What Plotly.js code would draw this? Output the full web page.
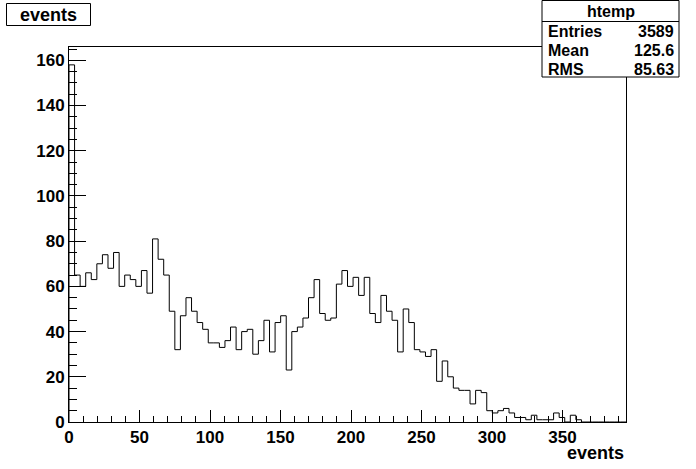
<!DOCTYPE html>
<html>
<head>
<meta charset="utf-8">
<script src="https://cdn.plot.ly/plotly-3.0.1.min.js"></script>
<style>html,body{margin:0;padding:0;background:#fff;}#chart{width:696px;height:469px;}</style>
</head>
<body>
<div id="chart"></div>
<script>
// ---- data ----
const histName = 'htemp';
const varName = 'events';
const nBins = 100;
const xMin = 0;
const xMax = 395;
const counts = [
  158, 65, 60, 66, 63, 70, 74, 68, 75, 60,
  65, 63, 60, 67, 57, 81, 72, 65, 49, 32,
  47, 55, 49, 44, 41, 35, 35, 33, 36, 42,
  32, 40, 41, 30, 36, 45, 31, 44, 47, 23,
  40, 42, 46, 55, 63, 48, 45, 46, 61, 67,
  60, 64, 56, 64, 48, 44, 56, 49, 45, 31,
  50, 44, 32, 31, 29, 32, 18, 27, 20, 15,
  14, 14, 8, 14, 13, 5, 4, 5, 6, 4,
  2, 2, 1, 3, 1, 1, 1, 4, 2, 0,
  3, 1, 0, 0, 0, 0, 0, 0, 0, 0
];
const statsLabels = ['Entries', 'Mean', 'RMS'];
const statsValues = ['3589', '125.6', '85.63'];
const xTickVals = [0, 50, 100, 150, 200, 250, 300, 350];
const yTickVals = [0, 20, 40, 60, 80, 100, 120, 140, 160];

// ---- build step outline from bins ----
const bw = (xMax - xMin) / nBins;
const sx = [xMin], sy = [0];
for (let i = 0; i < nBins; i++) { sx.push(xMin + i * bw); sy.push(counts[i]); }
sx.push(xMax); sy.push(counts[nBins - 1]);
sx.push(xMax); sy.push(0);
const yMax = Math.max(...counts) * 1.05;

// ---- layout geometry (pixels) ----
const W = 696, H = 469, L = 69, R = 70, T = 47, B = 47;
const pw = W - L - R, ph = H - T - B;
const px = v => (v - L) / pw;
const py = v => (H - B - v) / ph;

const font = {family: 'Liberation Sans, Arial, sans-serif', color: '#000', weight: 700};
const f = s => Object.assign({}, font, {size: s});

const shapes = [
  // stats box
  {type: 'rect', xref: 'paper', yref: 'paper', x0: px(542), x1: px(679), y0: py(77), y1: py(0.5),
   fillcolor: '#fff', line: {color: '#000', width: 1}, layer: 'above'},
  {type: 'line', xref: 'paper', yref: 'paper', x0: px(542), x1: px(679), y0: py(21.5), y1: py(21.5),
   line: {color: '#000', width: 1}, layer: 'above'},
  // title box
  {type: 'rect', xref: 'paper', yref: 'paper', x0: px(6.5), x1: px(90.5), y0: py(25.5), y1: py(3.5),
   fillcolor: '#fff', line: {color: '#000', width: 1}, layer: 'above'}
];

const annotations = [
  {text: varName, xref: 'paper', yref: 'paper', x: px(48.5), y: py(14.5), xanchor: 'center', yanchor: 'middle',
   showarrow: false, font: f(18)},
  {text: varName, xref: 'paper', yref: 'paper', x: px(626), y: py(453), xanchor: 'right', yanchor: 'middle',
   showarrow: false, font: f(18)},
  {text: histName, xref: 'paper', yref: 'paper', x: px(610.5), y: py(11.5), xanchor: 'center', yanchor: 'middle',
   showarrow: false, font: f(16)}
];
const rowY = [31.5, 50.5, 69];
statsLabels.forEach((lab, i) => {
  annotations.push({text: lab, xref: 'paper', yref: 'paper', x: px(546), y: py(rowY[i]), xanchor: 'left', yanchor: 'middle',
    showarrow: false, font: f(16)});
  annotations.push({text: statsValues[i], xref: 'paper', yref: 'paper', x: px(676), y: py(rowY[i]), xanchor: 'right', yanchor: 'middle',
    showarrow: false, font: f(16)});
});

const trace = {
  x: sx, y: sy, type: 'scatter', mode: 'lines',
  line: {color: '#000', width: 1, shape: 'hv'},
  hoverinfo: 'skip', showlegend: false
};

const layout = {
  width: W, height: H,
  margin: {l: L, r: R, t: T, b: B, pad: 0},
  paper_bgcolor: '#fff', plot_bgcolor: '#fff',
  showlegend: false,
  xaxis: {
    range: [xMin, xMax], showgrid: false, zeroline: false,
    showline: true, linecolor: '#000', linewidth: 1, mirror: true,
    ticks: 'inside', ticklen: 12, tickwidth: 1, tickcolor: '#000',
    tickvals: xTickVals, ticktext: xTickVals.map(String),
    tickfont: f(17),
    minor: {dtick: 10, tick0: 0, ticks: 'inside', ticklen: 6, tickwidth: 1, tickcolor: '#000', showgrid: false}
  },
  yaxis: {
    range: [0, yMax], showgrid: false, zeroline: false,
    showline: true, linecolor: '#000', linewidth: 1, mirror: true,
    ticks: 'inside', ticklen: 17, tickwidth: 1, tickcolor: '#000',
    tickvals: yTickVals, ticktext: yTickVals.map(String),
    tickfont: f(17),
    minor: {dtick: 5, tick0: 0, ticks: 'inside', ticklen: 8, tickwidth: 1, tickcolor: '#000', showgrid: false}
  },
  shapes: shapes,
  annotations: annotations
};

Plotly.newPlot('chart', [trace], layout, {displayModeBar: false, staticPlot: true});
</script>
</body>
</html>
